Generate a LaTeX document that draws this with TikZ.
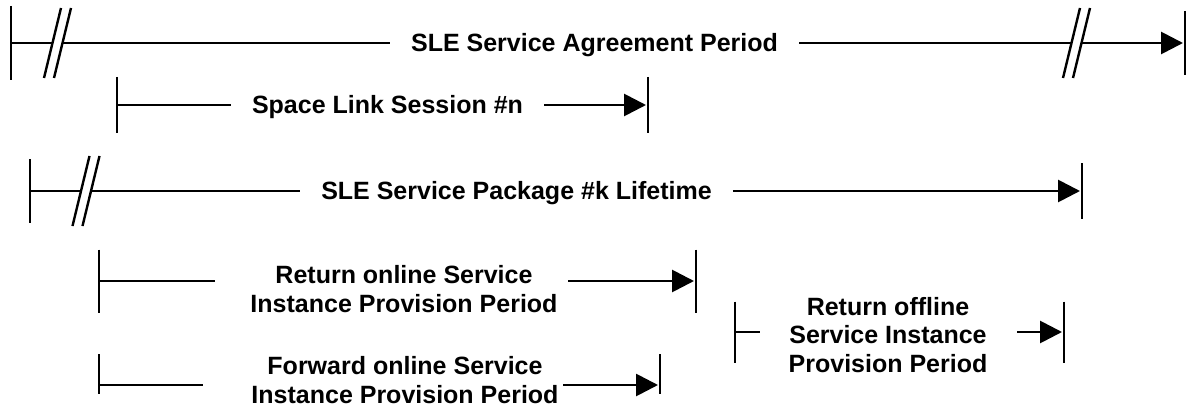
\documentclass[tikz,border=0pt]{standalone}
\usepackage{fontspec}
\setmainfont{Liberation Sans}
\usetikzlibrary{arrows.meta}
\begin{document}
\begin{tikzpicture}[x=1pt, y=-1pt,
      line/.style ={line width=2.8pt},
      tick/.style ={line width=2.8pt},
      slash/.style ={line width=2.4pt},
      arrow/.style ={line width=2.8pt, -{Triangle[length=22pt,width=22pt]}},
      period/.style ={font=\bfseries\fontsize{25}{28.5}\selectfont, inner xsep=21pt, inner ysep=0pt, anchor=base},
      periods/.style ={period, align=center, inner xsep=0pt}
    ]
    \useasboundingbox (0,0) rectangle (1188,417);

    \coordinate (agrS) at (11,43) ;
    \coordinate (agrB1) at (52.5,43) ;
    \coordinate (agrB2) at (62.5,43) ;
    \coordinate (agrB3) at (1071.5,43) ;
    \coordinate (agrB4) at (1081.5,43) ;
    \coordinate (agrE) at (1185,43) ;
    \node [period] (agr) at (594.5,52) {SLE Service Agreement Period} ;

    \coordinate (sesS) at (117,105) ;
    \coordinate (sesE) at (648,105) ;
    \node [period] (ses) at (387.5,113.5) {Space Link Session \#n} ;

    \coordinate (pkgS) at (30,191) ;
    \coordinate (pkgB1) at (81,191) ;
    \coordinate (pkgB2) at (91,191) ;
    \coordinate (pkgE) at (1082,191) ;
    \node [period] (pkg) at (516.5,199.5) {SLE Service Package \#k Lifetime} ;

    \coordinate (ronS) at (99,281) ;
    \coordinate (ronL) at (215,281) ;
    \coordinate (ronR) at (568,281) ;
    \coordinate (ronE) at (696,281) ;
    \node [periods] (ron) at (404,312) {Return online Service\\Instance Provision Period} ;

    \coordinate (fonS) at (99,385) ;
    \coordinate (fonL) at (203,385) ;
    \coordinate (fonR) at (563,385) ;
    \coordinate (fonE) at (660,385) ;
    \node [periods] (fon) at (405,403) {Forward online Service\\Instance Provision Period} ;

    \coordinate (roffS) at (735,332) ;
    \coordinate (roffL) at (760,332) ;
    \coordinate (roffR) at (1017,332) ;
    \coordinate (roffE) at (1064,332) ;
    \node [periods] (roff) at (888,372) {Return offline\\Service Instance\\Provision Period} ;

    \draw [tick] (agrS) ++(0,-37) -- ++(0,74) ;
    \draw [line] (agrS) -- (agrB1) ;
    \draw [slash] (agrB1) ++(8.5,-35) -- ++(-17,70) ;
    \draw [slash] (agrB2) ++(8.5,-35) -- ++(-17,70) ;
    \draw [line] (agrB2) -- (agrB2 -| agr.west) ;
    \draw [line] (agrB3 -| agr.east) -- (agrB3) ;
    \draw [slash] (agrB3) ++(8.5,-35) -- ++(-17,70) ;
    \draw [slash] (agrB4) ++(8.5,-35) -- ++(-17,70) ;
    \draw [arrow] (agrB4) -- ([xshift=-2pt]agrE) ;
    \draw [tick] (agrE) ++(0,-32) -- ++(0,64) ;

    \draw [tick] (sesS) ++(0,-28) -- ++(0,56) ;
    \draw [line] (sesS) -- (sesS -| ses.west) ;
    \draw [arrow] (sesS -| ses.east) -- ([xshift=-2pt]sesE) ;
    \draw [tick] (sesE) ++(0,-28) -- ++(0,56) ;

    \draw [tick] (pkgS) ++(0,-32) -- ++(0,64) ;
    \draw [line] (pkgS) -- (pkgB1) ;
    \draw [slash] (pkgB1) ++(8.5,-35) -- ++(-17,70) ;
    \draw [slash] (pkgB2) ++(8.5,-35) -- ++(-17,70) ;
    \draw [line] (pkgB2) -- (pkgB2 -| pkg.west) ;
    \draw [arrow] (pkgS -| pkg.east) -- ([xshift=-2pt]pkgE) ;
    \draw [tick] (pkgE) ++(0,-28) -- ++(0,56) ;

    \draw [tick] (ronS) ++(0,-31.5) -- ++(0,63) ;
    \draw [line] (ronS) -- (ronL) ;
    \draw [arrow] (ronR) -- ([xshift=-2pt]ronE) ;
    \draw [tick] (ronE) ++(0,-31.5) -- ++(0,63) ;

    \draw [tick] (fonS) ++(0,-31) -- ++(0,40) ;
    \draw [line] (fonS) -- (fonL) ;
    \draw [arrow] (fonR) -- ([xshift=-2pt]fonE) ;
    \draw [tick] (fonE) ++(0,-31) -- ++(0,40) ;

    \draw [tick] (roffS) ++(0,-30.5) -- ++(0,61) ;
    \draw [line] (roffS) -- (roffL) ;
    \draw [arrow] (roffR) -- ([xshift=-2pt]roffE) ;
    \draw [tick] (roffE) ++(0,-30.5) -- ++(0,61) ;
  \end{tikzpicture}
\end{document}
